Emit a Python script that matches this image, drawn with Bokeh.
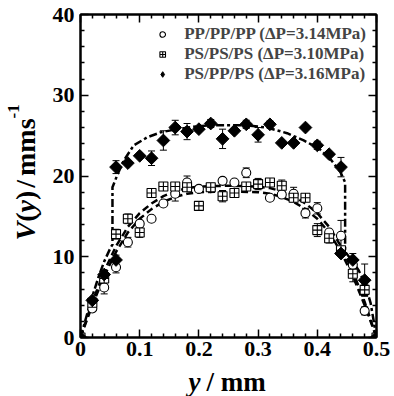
from math import pi
from bokeh.plotting import figure
from bokeh.layouts import column, row
from bokeh.core.properties import value
from bokeh.models import (ColumnDataSource, Whisker, TeeHead, FixedTicker, LinearAxis,
                          Range1d, Legend, LegendItem, PrintfTickFormatter)
from bokeh.embed import file_html
from bokeh.resources import INLINE

# ---------------- data ----------------
pp_x = [0, 0.02, 0.04, 0.06, 0.08, 0.10, 0.12, 0.14, 0.16, 0.18, 0.20, 0.22, 0.24, 0.26,
        0.28, 0.30, 0.32, 0.34, 0.36, 0.38, 0.40, 0.42, 0.44, 0.46, 0.48, 0.5]
pp_v = [0, 3.6, 6.2, 8.7, 11.8, 14.1, 14.7, 16.6, 17.8, 19.2, 18.4, 18.5, 19.4, 19.2,
        20.4, 18.9, 17.3, 17.7, 17.8, 15.4, 16.0, 13.0, 12.6, 9.0, 3.3, 0]
pp_err = [0, 0, 0.8, 0.7, 0.6, 0, 0, 0, 0.9, 0.8, 0, 0, 0, 0,
          0.6, 0, 0, 0, 0.8, 0.6, 0.7, 0, 1.9, 0, 0.5, 0]

ps_x = [0, 0.02, 0.04, 0.06, 0.08, 0.10, 0.12, 0.14, 0.16, 0.18, 0.20, 0.22, 0.24, 0.26,
        0.28, 0.30, 0.32, 0.34, 0.36, 0.38, 0.40, 0.42, 0.44, 0.46, 0.48, 0.5]
ps_v = [0, 4.3, 7.3, 12.8, 14.7, 13.0, 17.9, 18.7, 18.7, 18.6, 16.3, 18.6, 17.5, 17.9,
        18.7, 19.0, 19.2, 18.8, 17.3, 17.3, 13.3, 12.3, 10.8, 7.9, 5.9, 0]
ps_err = [0, 0, 0.5, 0.6, 0.6, 0.6, 0, 0, 0, 0, 0, 0.5, 0.7, 0,
          0, 0.7, 0, 0.7, 0.5, 0, 0.8, 0.6, 0, 1.0, 0.7, 0]

psp_x = [0, 0.02, 0.04, 0.06, 0.06, 0.08, 0.10, 0.12, 0.14, 0.16, 0.18, 0.20, 0.22, 0.24,
         0.26, 0.28, 0.30, 0.32, 0.34, 0.36, 0.38, 0.40, 0.42, 0.44, 0.44, 0.46, 0.48, 0.5]
psp_v = [0, 4.6, 7.8, 9.6, 21.1, 21.6, 22.5, 22.2, 24.4, 26.0, 25.5, 25.8, 26.5, 24.6,
         25.6, 26.4, 25.1, 26.4, 24.1, 24.1, 26.0, 23.8, 22.7, 21.1, 10.4, 9.6, 7.1, 0]
psp_err = [0, 0, 0.5, 0.6, 0.8, 0, 0, 0.9, 1.2, 0.9, 1.0, 0, 0.5, 1.2,
           0, 0.5, 0.9, 0.4, 0, 0, 0, 0.5, 0, 1.2, 0, 0.8, 2.0, 0]

# dashed fitted profiles
fitA_x = [0, 0.02, 0.04, 0.06, 0.08, 0.10, 0.12, 0.14, 0.16, 0.18, 0.20, 0.25,
          0.30, 0.32, 0.34, 0.36, 0.38, 0.40, 0.42, 0.44, 0.46, 0.48, 0.5]
fitA_v = [0, 4.4, 8.2, 11.3, 13.7, 15.4, 16.6, 17.5, 18.1, 18.5, 18.7, 18.8,
          18.7, 18.5, 18.1, 17.5, 16.6, 15.4, 13.7, 11.3, 8.2, 4.4, 0]
fitB_x = fitA_x
fitB_v = [0, 4.0, 7.6, 10.6, 13.0, 14.7, 15.9, 16.8, 17.4, 17.8, 18.0, 18.1,
          18.0, 17.8, 17.4, 16.8, 15.9, 14.7, 13.0, 10.6, 7.6, 4.0, 0]
fitC_x = [0, 0.01, 0.02, 0.03, 0.04, 0.05, 0.054, 0.054, 0.062, 0.073, 0.09, 0.113, 0.135,
          0.163, 0.191, 0.22, 0.25, 0.276, 0.315, 0.349, 0.377, 0.403, 0.422, 0.439, 0.447,
          0.447, 0.46, 0.47, 0.48, 0.49, 0.5]
fitC_v = [0, 2.6, 5.1, 7.4, 9.4, 11.0, 11.5, 18.6, 20.1, 21.9, 23.8, 24.8, 25.4,
          25.8, 26.1, 26.3, 26.3, 26.3, 26.0, 25.3, 24.4, 23.4, 22.1, 20.5, 19.2,
          10.6, 9.4, 8.3, 6.8, 4.3, 0]

x_ticks = [0, 0.1, 0.2, 0.3, 0.4, 0.5]
x_minor = [0.02, 0.04, 0.06, 0.08, 0.12, 0.14, 0.16, 0.18, 0.22, 0.24, 0.26, 0.28,
           0.32, 0.34, 0.36, 0.38, 0.42, 0.44, 0.46, 0.48]
y_ticks = [0, 10, 20, 30, 40]
y_minor = [2, 4, 6, 8, 12, 14, 16, 18, 22, 24, 26, 28, 32, 34, 36, 38]

labels = ["PP/PP/PP (\u0394P=3.14MPa)", "PS/PS/PS (\u0394P=3.10MPa)",
          "PS/PP/PS (\u0394P=3.16MPa)"]

FONT = "Liberation Serif"
TOPH = 365          # height of the upper row (plot + y title)
YW = 44             # width of the y-title strip

# ---------------- main figure ----------------
p = figure(width=394 - YW, height=TOPH, output_backend="svg", toolbar_location=None,
           x_range=Range1d(0, 0.5), y_range=Range1d(0, 40),
           min_border_left=80 - YW, min_border_right=18, min_border_top=14,
           min_border_bottom=TOPH - 337, x_axis_type=None, y_axis_type=None)
p.grid.visible = False
p.outline_line_color = "black"
p.outline_line_width = 2

xt = FixedTicker(ticks=x_ticks, minor_ticks=x_minor)
yt = FixedTicker(ticks=y_ticks, minor_ticks=y_minor)


def style_axis(ax, show_labels, standoff=6):
    ax.axis_line_width = 2
    ax.major_tick_in = 8
    ax.major_tick_out = 0
    ax.minor_tick_in = 4
    ax.minor_tick_out = 0
    ax.major_tick_line_width = 1.5
    ax.minor_tick_line_width = 1.5
    if show_labels:
        ax.major_label_text_font = FONT
        ax.major_label_text_font_style = "bold"
        ax.major_label_text_font_size = "22px"
        ax.major_label_text_color = "black"
        ax.major_label_standoff = standoff
    else:
        ax.major_label_text_font_size = "0px"
        ax.major_label_standoff = 0


xb = LinearAxis(ticker=xt, formatter=PrintfTickFormatter(format="%g"))
style_axis(xb, True, 4)
p.add_layout(xb, "below")
xa = LinearAxis(ticker=xt)
style_axis(xa, False)
p.add_layout(xa, "above")
yl = LinearAxis(ticker=yt)
style_axis(yl, True, 6)
p.add_layout(yl, "left")
yr = LinearAxis(ticker=yt)
style_axis(yr, False)
p.add_layout(yr, "right")

# curves
p.line(fitA_x, fitA_v, line_color="black", line_width=2.5, line_dash="7 4")
p.line(fitB_x, fitB_v, line_color="black", line_width=2.5, line_dash="7 4")
p.line(fitC_x, fitC_v, line_color="black", line_width=2.5, line_dash="8 3 3 3")


def errors(xs, vs, es):
    bx = [x for x, e in zip(xs, es) if e > 0]
    up = [v + e for v, e in zip(vs, es) if e > 0]
    lo = [v - e for v, e in zip(vs, es) if e > 0]
    src = ColumnDataSource(dict(x=bx, upper=up, lower=lo))
    w = Whisker(source=src, base="x", upper="upper", lower="lower", dimension="height",
                line_color="black", line_width=1,
                upper_head=TeeHead(size=7, line_width=1, line_color="black"),
                lower_head=TeeHead(size=7, line_width=1, line_color="black"))
    p.add_layout(w)


errors(pp_x, pp_v, pp_err)
errors(ps_x, ps_v, ps_err)
errors(psp_x, psp_v, psp_err)

r_pp = p.scatter(pp_x, pp_v, marker="circle", size=9, fill_color="white",
                 line_color="black", line_width=1.1)
r_ps = p.scatter(ps_x, ps_v, marker="square_cross", size=9, fill_color="white",
                 line_color="black", line_width=1.1)
p.scatter(psp_x, psp_v, marker="square", angle=pi / 4, size=9,
          fill_color="black", line_color="black", line_width=1)
# legend proxy for the filled diamonds: one point placed outside the visible ranges
r_psp_leg = p.scatter(x=[-1.0], y=[-10.0], marker="diamond", size=15, fill_color="black",
                      line_color="black", line_width=1)

legend = Legend(items=[LegendItem(label=labels[0], renderers=[r_pp]),
                       LegendItem(label=labels[1], renderers=[r_ps]),
                       LegendItem(label=labels[2], renderers=[r_psp_leg])],
                location="top_right", margin=10, padding=2, spacing=-4,
                glyph_width=20, glyph_height=14, label_height=14, label_standoff=12,
                label_text_font=FONT, label_text_font_style="bold",
                label_text_font_size="17px", label_text_line_height=1.0,
                border_line_color=None, background_fill_alpha=0)
p.add_layout(legend)

# ---------------- y title strip: its frame lines up with the plot frame ----------------
yfig = figure(width=YW, height=TOPH, output_backend="svg", toolbar_location=None,
              x_range=Range1d(0, YW), y_range=Range1d(0, 40), min_border=0,
              x_axis_type=None, y_axis_type=None, outline_line_color=None)
yfig.grid.visible = False
F = 28
PXY = 40.0 / 323.0          # velocity units per pixel
base_x = 34                 # where the text baseline should sit (px)
top_x = base_x - 0.891 * F  # em-box top edge for rotated text
pos = (337 - 240) * PXY
ypieces = [("V", "bold italic", 0.667, 0), ("(", "bold", 0.333, 0),
           ("y", "bold italic", 0.444, 0), (")", "bold", 0.333, 3),
           ("/", "bold", 0.278, 4), ("mms", "bold", 2.055, 0)]
for txt, st, w, gap in ypieces:
    yfig.text(x=[top_x], y=[pos], text=[txt], angle=pi / 2, text_font=value(FONT),
              text_font_style=value(st), text_font_size=value(f"{F}px"),
              text_baseline="top", text_align="left", text_color="black")
    pos += (w * F + gap) * PXY
FS = int(F * 0.62)
sup_base = base_x - 0.42 * F
yfig.text(x=[sup_base - 0.891 * FS], y=[pos], text=["-1"], angle=pi / 2,
          text_font=value(FONT), text_font_style=value("bold"),
          text_font_size=value(f"{FS}px"), text_baseline="top",
          text_align="left", text_color="black")

# ---------------- x title strip (pixel coordinates, y measured up from the bottom) ----
XH = 396 - TOPH
xfig = figure(width=394, height=XH, output_backend="svg", toolbar_location=None,
              x_range=Range1d(0, 394), y_range=Range1d(0, XH), min_border=0,
              x_axis_type=None, y_axis_type=None, outline_line_color=None)
xfig.grid.visible = False
FX = 27
xfig.text(x=[188], y=[XH - 1], text=["y"], text_font=value(FONT),
          text_font_style=value("bold italic"), text_font_size=value(f"{FX}px"),
          text_baseline="top", text_align="left", text_color="black")
xfig.text(x=[206], y=[XH - 1], text=["/ mm"], text_font=value(FONT),
          text_font_style=value("bold"), text_font_size=value(f"{FX}px"),
          text_baseline="top", text_align="left", text_color="black")

layout = column(row(yfig, p, spacing=0), xfig, spacing=0)
open("out.html", "w").write(file_html(layout, INLINE))
